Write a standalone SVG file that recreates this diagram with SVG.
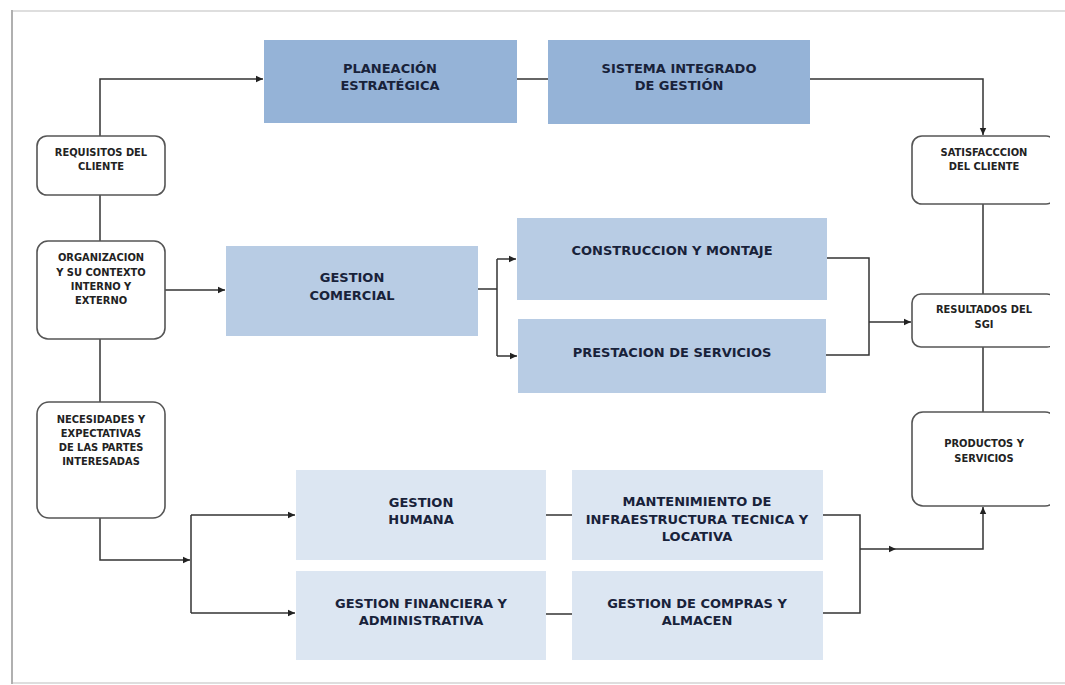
<svg xmlns="http://www.w3.org/2000/svg" width="1065" height="685" viewBox="0 0 1065 685">
  <defs>
    <marker id="arrow" markerUnits="userSpaceOnUse" markerWidth="8" markerHeight="8" refX="7" refY="4" orient="auto">
      <path d="M0,0.8 L7,4 L0,7.2 Z" fill="#222"/>
    </marker>
    <clipPath id="rightClip">
      <rect x="0" y="0" width="1050" height="685"/>
    </clipPath>
    <style>
      .frame-left { fill: none; stroke: #b0b0b0; stroke-width: 2; }
      .frame-light { fill: none; stroke: #dedede; stroke-width: 1.8; }
      .proc1 { fill: #95b3d7; }
      .proc2 { fill: #b8cce4; }
      .proc3 { fill: #dce6f2; }
      .term { fill: #ffffff; stroke: #555555; stroke-width: 1.6; }
      .t-big { font-family: "DejaVu Sans", "Liberation Sans", sans-serif; font-weight: bold; font-size: 13px; fill: #18223a; text-anchor: middle; }
      .t-small { font-family: "DejaVu Sans Condensed", "DejaVu Sans", "Liberation Sans", sans-serif; font-weight: bold; font-size: 11px; fill: #222222; text-anchor: middle; }
      .conn { fill: none; stroke: #333333; stroke-width: 1.5; }
    </style>
  </defs>

  <rect x="0" y="0" width="1065" height="685" fill="#ffffff"/>

  <!-- page frame -->
  <path class="frame-light" d="M12,11 H1065"/>
  <path class="frame-light" d="M12,683 H1065"/>
  <path class="frame-left" d="M12,10 V684"/>

  <!-- connectors -->
  <g id="connectors">
    <path class="conn" d="M100,136 V79 H263" marker-end="url(#arrow)"/>
    <path class="conn" d="M517,79 H548"/>
    <path class="conn" d="M810,79 H983 V135" marker-end="url(#arrow)"/>
    <path class="conn" d="M100,195 V241"/>
    <path class="conn" d="M100,339 V402"/>
    <path class="conn" d="M165,290 H225" marker-end="url(#arrow)"/>
    <path class="conn" d="M100,518 V560 H190" marker-end="url(#arrow)"/>
    <path class="conn" d="M191,515 V613"/>
    <path class="conn" d="M191,515 H295" marker-end="url(#arrow)"/>
    <path class="conn" d="M191,613 H295" marker-end="url(#arrow)"/>
    <path class="conn" d="M478,289 H497"/>
    <path class="conn" d="M497,259 V356"/>
    <path class="conn" d="M497,259 H516" marker-end="url(#arrow)"/>
    <path class="conn" d="M497,356 H517" marker-end="url(#arrow)"/>
    <path class="conn" d="M827,258 H869 V355 H826"/>
    <path class="conn" d="M869,322 H911" marker-end="url(#arrow)"/>
    <path class="conn" d="M983,204 V294"/>
    <path class="conn" d="M983,347 V412"/>
    <path class="conn" d="M546,515 H572"/>
    <path class="conn" d="M546,614 H572"/>
    <path class="conn" d="M823,515 H860 V613 H823"/>
    <path class="conn" d="M860,549 H896" marker-end="url(#arrow)"/>
    <path class="conn" d="M896,549 H983 V507" marker-end="url(#arrow)"/>
  </g>

  <!-- strategic row -->
  <g id="planeacion">
    <rect class="proc1" x="264" y="40" width="253" height="83"/>
    <text class="t-big" x="390" y="72.5">PLANEACIÓN</text>
    <text class="t-big" x="390" y="90">ESTRATÉGICA</text>
  </g>
  <g id="sistema-integrado">
    <rect class="proc1" x="548" y="40" width="262" height="84"/>
    <text class="t-big" x="679" y="72.5">SISTEMA INTEGRADO</text>
    <text class="t-big" x="679" y="90">DE GESTIÓN</text>
  </g>

  <!-- inputs -->
  <g id="requisitos">
    <rect class="term" x="37" y="136" width="128" height="59" rx="10"/>
    <text class="t-small" x="101" y="156">REQUISITOS DEL</text>
    <text class="t-small" x="101" y="170">CLIENTE</text>
  </g>
  <g id="organizacion">
    <rect class="term" x="37" y="241" width="128" height="98" rx="11"/>
    <text class="t-small" x="101" y="261">ORGANIZACION</text>
    <text class="t-small" x="101" y="275.5">Y SU CONTEXTO</text>
    <text class="t-small" x="101" y="290">INTERNO Y</text>
    <text class="t-small" x="101" y="303.5">EXTERNO</text>
  </g>
  <g id="necesidades">
    <rect class="term" x="37" y="402" width="128" height="116" rx="12"/>
    <text class="t-small" x="101" y="423">NECESIDADES Y</text>
    <text class="t-small" x="101" y="437">EXPECTATIVAS</text>
    <text class="t-small" x="101" y="451">DE LAS PARTES</text>
    <text class="t-small" x="101" y="465">INTERESADAS</text>
  </g>

  <!-- mission processes -->
  <g id="gestion-comercial">
    <rect class="proc2" x="226" y="246" width="252" height="90"/>
    <text class="t-big" x="352" y="281.5">GESTION</text>
    <text class="t-big" x="352" y="299.5">COMERCIAL</text>
  </g>
  <g id="construccion">
    <rect class="proc2" x="517" y="218" width="310" height="82"/>
    <text class="t-big" x="672" y="254.5">CONSTRUCCION Y MONTAJE</text>
  </g>
  <g id="prestacion">
    <rect class="proc2" x="518" y="319" width="308" height="74"/>
    <text class="t-big" x="672" y="356.5">PRESTACION DE SERVICIOS</text>
  </g>

  <!-- support processes -->
  <g id="gestion-humana">
    <rect class="proc3" x="296" y="470" width="250" height="90"/>
    <text class="t-big" x="421" y="506.5">GESTION</text>
    <text class="t-big" x="421" y="524">HUMANA</text>
  </g>
  <g id="gestion-financiera">
    <rect class="proc3" x="296" y="571" width="250" height="89"/>
    <text class="t-big" x="421" y="607.5">GESTION FINANCIERA Y</text>
    <text class="t-big" x="421" y="624.5">ADMINISTRATIVA</text>
  </g>
  <g id="mantenimiento">
    <rect class="proc3" x="572" y="470" width="251" height="90"/>
    <text class="t-big" x="697" y="506">MANTENIMIENTO DE</text>
    <text class="t-big" x="697" y="523.5">INFRAESTRUCTURA TECNICA Y</text>
    <text class="t-big" x="697" y="541">LOCATIVA</text>
  </g>
  <g id="compras">
    <rect class="proc3" x="572" y="571" width="251" height="89"/>
    <text class="t-big" x="697" y="607.5">GESTION DE COMPRAS Y</text>
    <text class="t-big" x="697" y="624.5">ALMACEN</text>
  </g>

  <!-- outputs -->
  <g clip-path="url(#rightClip)">
    <g id="satisfaccion">
      <rect class="term" x="912" y="136" width="144" height="68" rx="10"/>
      <text class="t-small" x="984" y="156">SATISFACCCION</text>
      <text class="t-small" x="984" y="170">DEL CLIENTE</text>
    </g>
    <g id="resultados">
      <rect class="term" x="912" y="294" width="144" height="53" rx="9"/>
      <text class="t-small" x="984" y="313">RESULTADOS DEL</text>
      <text class="t-small" x="984" y="328">SGI</text>
    </g>
    <g id="productos">
      <rect class="term" x="912" y="412" width="144" height="94" rx="11"/>
      <text class="t-small" x="984" y="447">PRODUCTOS Y</text>
      <text class="t-small" x="984" y="462">SERVICIOS</text>
    </g>
  </g>
</svg>
